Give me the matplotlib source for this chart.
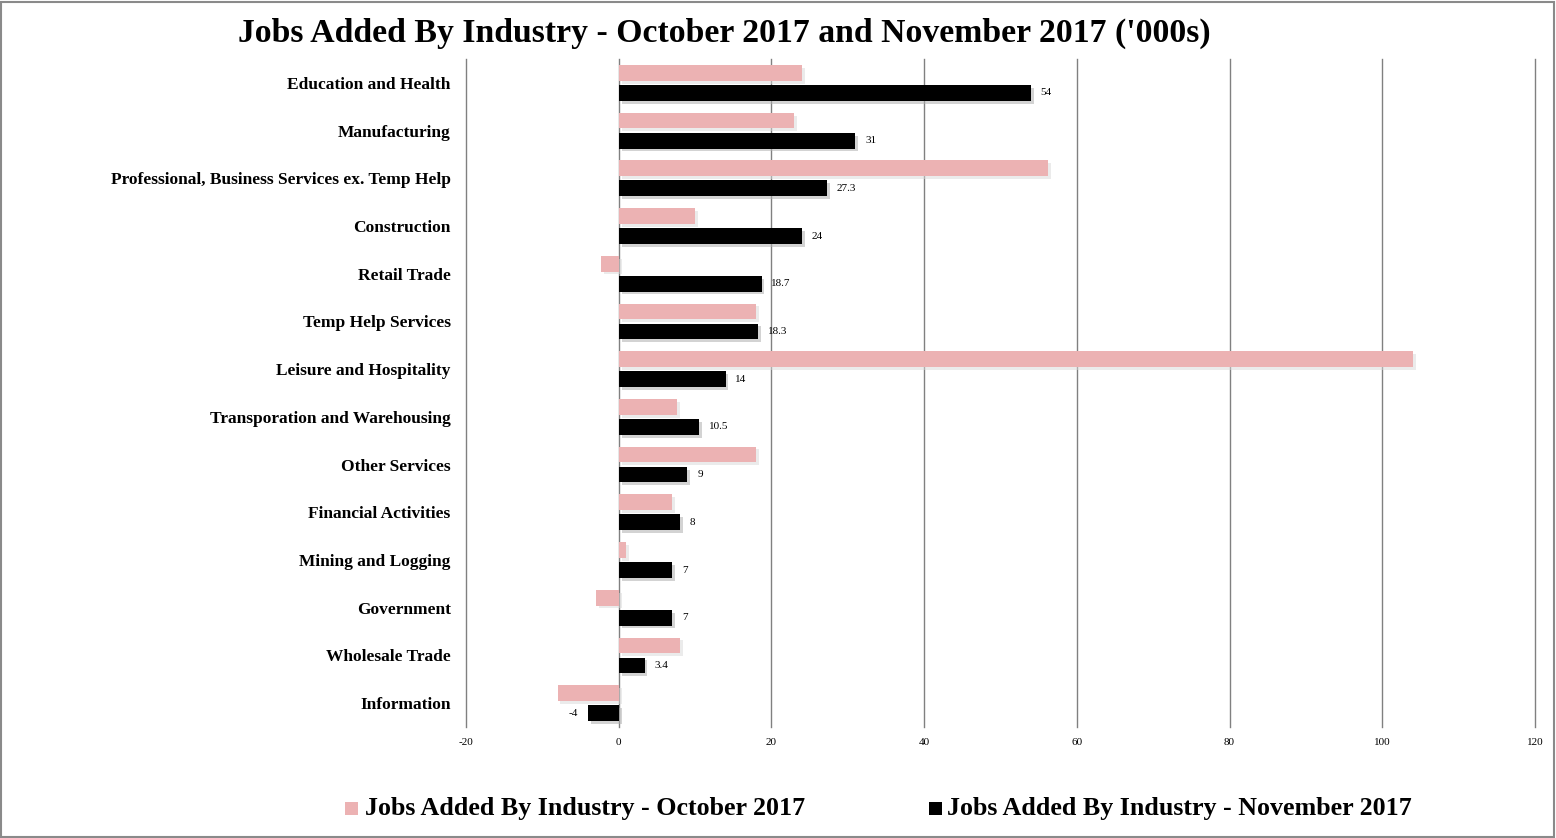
import matplotlib
matplotlib.use("Agg")
import matplotlib.pyplot as plt
import matplotlib.patheffects as pe
from matplotlib.patches import Rectangle
import numpy as np

categories = ["Education and Health", "Manufacturing",
              "Professional, Business Services ex. Temp Help", "Construction",
              "Retail Trade", "Temp Help Services", "Leisure and Hospitality",
              "Transporation and Warehousing", "Other Services",
              "Financial Activities", "Mining and Logging", "Government",
              "Wholesale Trade", "Information"]
oct_values = [24, 23, 56.2, 10, -2.3, 18, 104, 7.6, 18, 7, 1, -3, 8, -8]
nov_values = [54, 31, 27.3, 24, 18.7, 18.3, 14, 10.5, 9, 8, 7, 7, 3.4, -4]
nov_labels = ["54", "31", "27.3", "24", "18.7", "18.3", "14", "10.5", "9", "8",
              "7", "7", "3.4", "-4"]
x_ticks = [-20, 0, 20, 40, 60, 80, 100, 120]
series_names = ["Jobs Added By Industry - October 2017",
                "Jobs Added By Industry - November 2017"]
title = "Jobs Added By Industry - October 2017 and November 2017 ('000s)"

SERIF = ["Liberation Serif", "DejaVu Serif"]
PINK = "#ECB2B3"
W, H = 1556, 838

fig = plt.figure(figsize=(15.56, 8.38), dpi=100)
fig.patches.append(Rectangle((0.0005, 0.001), 0.998, 0.997, transform=fig.transFigure,
                             fill=False, edgecolor="#8a8a8a", linewidth=1.5))
ax = fig.add_axes([0.2995, 0.1325, 0.687, 0.797])

y = np.arange(len(categories))
h = 0.33
off = 0.21
shadow_k = [pe.SimplePatchShadow(offset=(2, -2), shadow_rgbFace="#b0b0b0", alpha=0.55), pe.Normal()]
shadow_p = [pe.SimplePatchShadow(offset=(2, -2), shadow_rgbFace="#d8d8d8", alpha=0.5), pe.Normal()]
b1 = ax.barh(y - off, oct_values, height=h, color=PINK, zorder=3)
b2 = ax.barh(y + off, nov_values, height=h, color="black", zorder=3)
for b in b1:
    b.set_path_effects(shadow_p)
for b in b2:
    b.set_path_effects(shadow_k)

for yi, v, lab in zip(y, nov_values, nov_labels):
    if v >= 0:
        ax.annotate(lab, (v, yi + off), xytext=(7, 0), textcoords="offset points",
                    ha="left", va="center", fontsize=8, family=SERIF)
    else:
        ax.annotate(lab, (v, yi + off), xytext=(-7, 0), textcoords="offset points",
                    ha="right", va="center", fontsize=8, family=SERIF)

ax.set_xlim(-20, 120)
ax.set_ylim(len(categories) - 0.5, -0.5)
ax.set_xticks(x_ticks)
ax.set_xticklabels([str(t) for t in x_ticks], fontsize=8, family=SERIF)
ax.set_yticks(y)
ax.set_yticklabels(categories, fontsize=12.5, family=SERIF, fontweight="bold")
ax.tick_params(axis="both", length=0)
ax.tick_params(axis="y", pad=11)
ax.tick_params(axis="x", pad=8)
ax.grid(axis="x", color="#808080", linewidth=1, zorder=0)
for gl in ax.get_xgridlines():
    gl.set_clip_on(False)
ax.set_axisbelow(True)
for s in ax.spines.values():
    s.set_visible(False)

fig.text(724.5 / W, 1 - 33 / H, title, ha="center", va="center", fontsize=24.3,
         fontweight="bold", family=SERIF)

# legend (manual placement)
leg_items = [(345, PINK, 365), (929, "black", 947)]
for (sx, col, tx), name in zip(leg_items, series_names):
    fig.patches.append(Rectangle((sx / W, 1 - 815 / H), 13 / W, 13 / H,
                                 transform=fig.transFigure, facecolor=col,
                                 edgecolor="none"))
    fig.text(tx / W, 1 - 808 / H, name, ha="left", va="center", fontsize=18.7,
             fontweight="bold", family=SERIF)

fig.savefig("out.png", dpi=100)
